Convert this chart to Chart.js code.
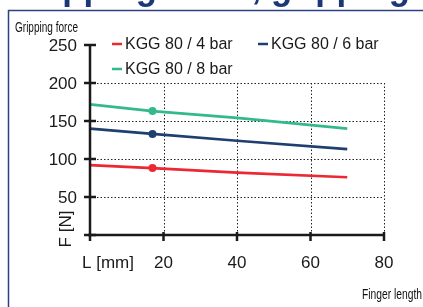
<!DOCTYPE html>
<html>
<head>
<meta charset="utf-8">
<script src="https://cdn.jsdelivr.net/npm/chart.js@4"></script>
<style>
  html, body { margin: 0; padding: 0; background: #fff; }
  #wrap { width: 423px; height: 307px; position: relative; overflow: hidden; }
</style>
</head>
<body>
<div id="wrap"><canvas id="myChart" width="423" height="307"></canvas></div>
<script>
// finger length [mm] and gripping force [N]
const positions = [0, 17, 40, 70];
const force4bar = [92, 88, 82, 76];
const force6bar = [140, 133, 124, 113];
const force8bar = [172, 163, 154, 140];
const seriesLabels = ['KGG 80 / 4 bar', 'KGG 80 / 6 bar', 'KGG 80 / 8 bar'];
const seriesColors = ['#ec2833', '#1e3f70', '#33b98a'];
const xTicks = [20, 40, 60, 80];
const yTicks = [50, 100, 150, 200, 250];
const markerAt = 17;

const SANS = '"Liberation Sans", Arial, sans-serif';

const toPoints = vals => vals.map((v, i) => ({ x: positions[i], y: v }));
const radii = positions.map(p => p === markerAt ? 4 : 0);

// draw text squeezed to a given width (the original uses a condensed face)
function fitText(ctx, text, x, y, width, align) {
    const w = ctx.measureText(text).width;
    const s = Math.min(1, width / w);
    ctx.save();
    ctx.translate(align === 'right' ? x - width : x, y);
    ctx.scale(s, 1);
    ctx.textAlign = 'left';
    ctx.fillText(text, 0, 0);
    ctx.restore();
}

const data = {
    datasets: [force4bar, force6bar, force8bar].map((vals, i) => ({
        label: seriesLabels[i],
        data: toPoints(vals),
        borderColor: seriesColors[i],
        backgroundColor: seriesColors[i],
        borderWidth: 2.7,
        pointRadius: radii,
        pointBorderWidth: 0,
        tension: 0
    }))
};

const drawing = {
    id: 'drawing',
    beforeDatasetsDraw(chart) {
        const ctx = chart.ctx;
        const x = chart.scales.x, y = chart.scales.y;
        ctx.save();
        ctx.strokeStyle = '#222';
        ctx.lineWidth = 1;
        ctx.setLineDash([1.5, 2]);
        yTicks.filter(t => t <= 200).forEach(t => {
            const py = Math.round(y.getPixelForValue(t)) + 0.5;
            ctx.beginPath();
            ctx.moveTo(x.getPixelForValue(0), py);
            ctx.lineTo(x.getPixelForValue(80), py);
            ctx.stroke();
        });
        xTicks.forEach(t => {
            const px = Math.round(x.getPixelForValue(t)) + 0.5;
            ctx.beginPath();
            ctx.moveTo(px, y.getPixelForValue(200));
            ctx.lineTo(px, y.getPixelForValue(0));
            ctx.stroke();
        });
        ctx.restore();
    },
    afterDatasetsDraw(chart) {
        const ctx = chart.ctx;
        const x = chart.scales.x, y = chart.scales.y;
        const x0 = x.getPixelForValue(0), y0 = y.getPixelForValue(0);
        ctx.save();
        // axes
        ctx.strokeStyle = '#1a1a1a';
        ctx.lineWidth = 2.5;
        ctx.beginPath();
        ctx.moveTo(x0, y.getPixelForValue(250));
        ctx.lineTo(x0, y0 + 6);
        ctx.moveTo(x0 - 2, y0);
        ctx.lineTo(x.getPixelForValue(80), y0);
        ctx.stroke();
        // ticks
        yTicks.concat([0]).forEach(t => {
            const py = y.getPixelForValue(t);
            ctx.beginPath();
            ctx.moveTo(x0 - 6, py);
            ctx.lineTo(x0 + 6, py);
            ctx.stroke();
        });
        xTicks.forEach(t => {
            const px = x.getPixelForValue(t);
            ctx.beginPath();
            ctx.moveTo(px, y0 - 3);
            ctx.lineTo(px, y0 + 6);
            ctx.stroke();
        });
        // tick labels
        ctx.fillStyle = '#1a1a1a';
        ctx.font = '17px ' + SANS;
        ctx.textAlign = 'right';
        ctx.textBaseline = 'middle';
        yTicks.forEach(t => ctx.fillText(String(t), x0 - 13, y.getPixelForValue(t) + 1));
        ctx.textAlign = 'center';
        ctx.textBaseline = 'alphabetic';
        xTicks.forEach(t => ctx.fillText(String(t), x.getPixelForValue(t), y0 + 33));
        ctx.textAlign = 'left';
        ctx.fillText('L [mm]', x0 - 8, y0 + 33);
        ctx.save();
        ctx.translate(x0 - 19, y0 - 6);
        ctx.rotate(-Math.PI / 2);
        ctx.textAlign = 'center';
        ctx.fillText('F [N]', 0, 0);
        ctx.restore();
        // legend
        const legendPos = [[112, 44], [258, 44], [112, 69]];
        ctx.font = '16px ' + SANS;
        ctx.textBaseline = 'middle';
        chart.data.datasets.forEach((ds, i) => {
            const [lx, ly] = legendPos[i];
            ctx.strokeStyle = ds.borderColor;
            ctx.lineWidth = 2.5;
            ctx.beginPath();
            ctx.moveTo(lx, ly);
            ctx.lineTo(lx + 10, ly);
            ctx.stroke();
            ctx.fillStyle = '#1a1a1a';
            ctx.fillText(ds.label, lx + 13, ly + 1);
        });
        // frame
        ctx.strokeStyle = '#2c4282';
        ctx.lineWidth = 1.5;
        ctx.beginPath();
        ctx.moveTo(8.5, 307);
        ctx.lineTo(8.5, 10.5);
        ctx.lineTo(423, 10.5);
        ctx.stroke();
        // cut-off page heading, only descenders visible
        ctx.fillStyle = '#1b3778';
        ctx.font = 'bold 36px ' + SANS;
        ctx.textBaseline = 'alphabetic';
        fitText(ctx, 'Gripping force, gripping', 12, -1, 398, 'left');
        // small captions
        ctx.fillStyle = '#111';
        ctx.font = '15px ' + SANS;
        fitText(ctx, 'Gripping force', 15, 32, 63, 'left');
        fitText(ctx, 'Finger length', 422, 299, 60, 'right');
        ctx.restore();
    }
};

const config = {
    type: 'line',
    data: data,
    options: {
        responsive: false,
        animation: false,
        devicePixelRatio: 1,
        layout: { padding: { left: 90, right: 39, top: 45, bottom: 72 } },
        plugins: { legend: { display: false }, tooltip: { enabled: false } },
        scales: {
            x: { type: 'linear', min: 0, max: 80, display: false },
            y: { min: 0, max: 250, display: false }
        }
    },
    plugins: [drawing]
};

const myChart = new Chart(document.getElementById('myChart'), config);
</script>
</body>
</html>
